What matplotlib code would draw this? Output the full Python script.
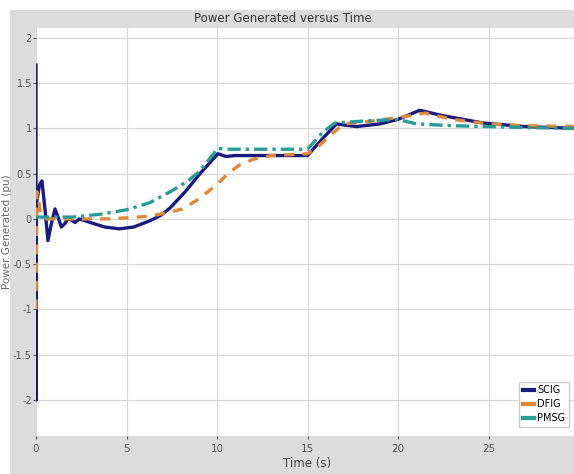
import matplotlib.pyplot as plt
from matplotlib.patches import Rectangle

plt.rcParams['font.family'] = ['Liberation Sans Narrow', 'DejaVu Sans']

# SCIG (solid navy)
scig_t = [0, 0, 0, 0.05, 0.2, 0.33, 0.5, 0.66, 0.85, 1.05, 1.25, 1.4, 1.6, 1.8, 2.0, 2.15, 2.4, 3.0,
          3.8, 4.6, 5.4, 6.3, 6.9, 7.4, 8.2, 9.06, 9.6, 10.05, 10.5, 11, 13, 15.0, 15.8, 16.6, 17.7,
          19, 20, 21.2, 22.5, 24.7, 27, 30]
scig_v = [1.7, -2.0, 0.05, 0.2, 0.38, 0.42, 0.1, -0.24, -0.05, 0.11, 0.0, -0.09, -0.05, 0.01, -0.02,
          -0.04, 0.0, -0.04, -0.09, -0.11, -0.09, -0.02, 0.04, 0.12, 0.29, 0.5, 0.62, 0.72, 0.69,
          0.70, 0.70, 0.70, 0.88, 1.05, 1.02, 1.05, 1.10, 1.20, 1.14, 1.06, 1.02, 1.0]

# DFIG (dashed orange)
dfig_t = [0, 0.05, 0.12, 0.25, 0.6, 1.5, 3, 4.1, 6.3, 7.3, 8.1, 9.0, 10.05, 10.6, 11.2, 12,
          13, 15.0, 15.7, 16.35, 17.0, 18.5, 20, 21.5, 23, 25, 27, 30]
dfig_v = [-1.0, 0.3, 0.25, 0.05, 0.0, 0.0, 0.0, 0.0, 0.03, 0.07, 0.11, 0.22, 0.39, 0.5, 0.59,
          0.66, 0.70, 0.72, 0.82, 0.94, 1.05, 1.08, 1.12, 1.17, 1.10, 1.05, 1.03, 1.02]

# PMSG (dash-dot teal)
pmsg_t = [0, 0.5, 2, 3.5, 5, 6.3, 7.5, 8.4, 9.06, 10.05, 10.5, 12, 15.0, 15.8, 16.5, 18, 20, 21,
          23, 25, 27, 30]
pmsg_v = [0.02, 0.02, 0.02, 0.05, 0.1, 0.18, 0.31, 0.42, 0.53, 0.78, 0.77, 0.77, 0.77, 0.95, 1.06,
          1.08, 1.10, 1.05, 1.03, 1.02, 1.01, 1.0]

series = [('SCIG', scig_t, scig_v, '#1b1b7e', '-'),
          ('DFIG', dfig_t, dfig_v, '#e0873a', (0, (3, 2.5))),
          ('PMSG', pmsg_t, pmsg_v, '#2a9c98', (0, (4, 1.5, 1, 1.5)))]

xticks = [0, 5, 10, 15, 20, 25, 30]
xticklabels = ['0', '5', '10', '15', '20', '25', '']   # 30 falls off the cropped edge
yticks = [-2, -1.5, -1, -0.5, 0, 0.5, 1, 1.5, 2]

W, H = 574, 474
fig = plt.figure(figsize=(W / 100, H / 100), dpi=100, facecolor='white')
fig.patches.append(Rectangle((10 / W, 0), 1, 1 - 10 / H, transform=fig.transFigure,
                             facecolor='#dcdcdc', edgecolor='none', zorder=-5))

ax = fig.add_axes([36 / W, 1 - 436 / H, (579 - 36) / W, (436 - 28) / H])
ax.set_facecolor('white')
for name, t, v, c, ls in series:
    ax.plot(t, v, color=c, linestyle=ls, linewidth=2.4, label=name)

ax.set_xlim(0, 30)
ax.set_ylim(-2.4, 2.11)
ax.set_xticks(xticks)
ax.set_xticklabels(xticklabels)
ax.set_yticks(yticks)
ax.set_yticklabels([f'{y:g}' for y in yticks])
ax.grid(True, color='#d8d8d8', linewidth=0.8)
ax.tick_params(colors='#555555', labelsize=7, length=2, pad=1)
ax.tick_params(axis='x', labelsize=7.5, pad=4)
for s in ax.spines.values():
    s.set_visible(False)

fig.text(283 / W, 1 - 19 / H, 'Power Generated versus Time', ha='center', va='center',
         fontsize=8.5, color='#333333')
fig.text(307 / W, 1 - 463 / H, 'Time (s)', ha='center', va='center',
         fontsize=8.5, color='#444444')
fig.text(7.5 / W, 1 - 232 / H, 'Power Generated (pu)', ha='center', va='center',
         rotation=90, fontsize=7.5, color='#666666')

leg = ax.legend(loc='lower right', bbox_to_anchor=(574 / W, 1 - 432 / H),
                bbox_transform=fig.transFigure, fontsize=7, handlelength=1.2,
                handletextpad=0.3, borderpad=0.4, labelspacing=0.4, fancybox=False,
                framealpha=1, edgecolor='#cccccc')
for line in leg.get_lines():
    line.set_linestyle('-')
    line.set_linewidth(3)

fig.savefig('out.png', dpi=100, facecolor=fig.get_facecolor())
